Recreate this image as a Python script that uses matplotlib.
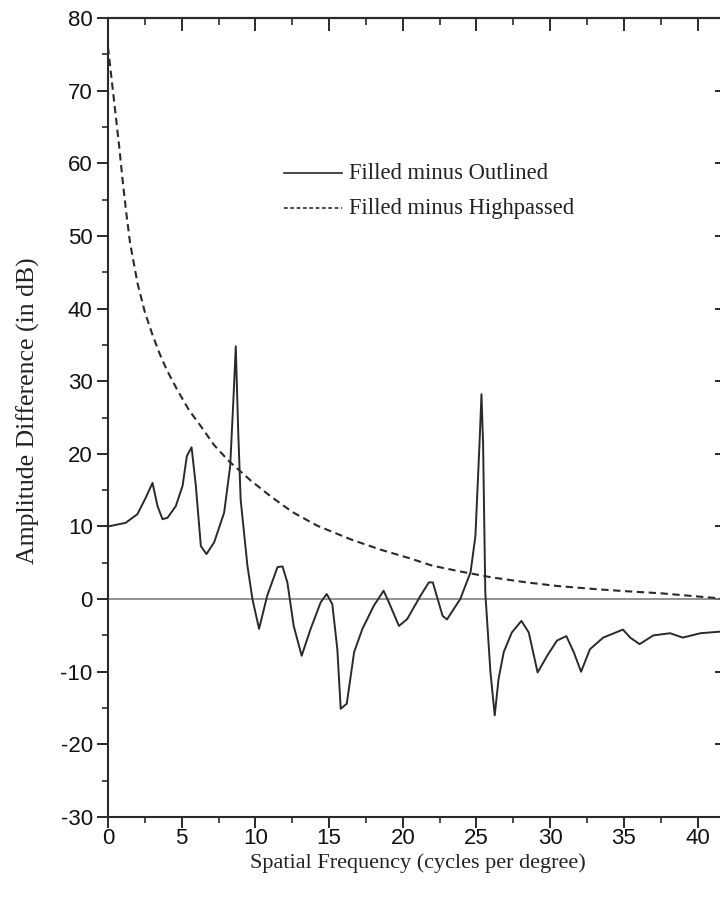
import matplotlib
matplotlib.use("Agg")
import matplotlib.pyplot as plt
from matplotlib.ticker import MultipleLocator

plt.rcParams["axes.unicode_minus"] = False

# ---- data ----
freq_outlined = [0, 1.2, 2.0, 2.57, 3.02, 3.36, 3.7, 4.04, 4.6, 5.06, 5.35, 5.67, 5.96, 6.3, 6.68,
                 7.2, 7.88, 8.29, 8.51, 8.67, 8.83, 9.0, 9.46, 9.8, 10.25, 10.8, 11.5, 11.84, 12.17,
                 12.6, 13.14, 13.75, 14.43, 14.84, 15.22, 15.56, 15.79, 16.2, 16.7, 17.26, 18.04,
                 18.7, 19.06, 19.74, 20.3, 21.2, 21.77, 22.04, 22.7, 23.0, 23.9, 24.6, 24.93, 25.22,
                 25.34, 25.45, 25.6, 25.95, 26.24, 26.5, 26.85, 27.4, 28.05, 28.55, 29.15, 29.8,
                 30.47, 31.1, 31.6, 32.1, 32.7, 33.6, 34.94, 35.43, 36.07, 37.0, 38.14, 39.0, 40.2, 42.0]
amp_outlined = [10.0, 10.5, 11.7, 14.0, 16.0, 12.8, 11.0, 11.2, 12.8, 15.6, 19.7, 20.9, 15.6, 7.3, 6.2,
                7.8, 11.9, 18.3, 27.5, 34.8, 23.4, 13.7, 4.6, 0.0, -4.1, 0.45, 4.4, 4.5, 2.3,
                -3.7, -7.8, -4.1, -0.45, 0.7, -0.7, -6.9, -15.1, -14.4, -7.3, -4.1, -0.9,
                1.15, -0.45, -3.7, -2.75, 0.45, 2.3, 2.3, -2.3, -2.8, 0.0, 3.7, 8.7, 22.0,
                28.2, 21.5, 0.9, -10.1, -16.0, -11.0, -7.3, -4.6, -3.0, -4.6, -10.1, -7.8,
                -5.7, -5.1, -7.3, -10.0, -6.9, -5.3, -4.2, -5.3, -6.2, -5.0, -4.7, -5.3, -4.7, -4.4]

freq_highpassed = [0, 0.25, 0.5, 0.75, 1.0, 1.25, 1.5, 2.0, 2.5, 3.0, 3.5, 4.0, 4.7, 5.5, 6.3,
                   7.2, 8.2, 9.7, 11.0, 12.5, 14.2, 16.5, 18.5, 20.5, 22.0, 23.9, 26.0, 28.4,
                   30.5, 32.9, 35.0, 37.5, 39.5, 41.5, 42.0]
amp_highpassed = [76, 71.5, 67, 62.5, 57.5, 53, 49, 43.5, 39.5, 36.5, 33.8, 31.5, 28.8, 26, 23.8,
                  21.2, 19, 16.3, 14.2, 12, 10.1, 8.2, 6.8, 5.6, 4.6, 3.8, 3.0, 2.3,
                  1.8, 1.4, 1.1, 0.8, 0.45, 0.1, 0.05]

legend_labels = ["Filled minus Outlined", "Filled minus Highpassed"]
x_label = "Spatial Frequency (cycles per degree)"
y_label = "Amplitude Difference (in dB)"

SANS = "Liberation Sans"
SERIF = "Liberation Serif"
INK = "#2a2a2a"

fig = plt.figure(figsize=(7.2, 8.98), dpi=100)
W, H = 720, 898
left, right, top, bottom = 108, 727, 18, 817
ax = fig.add_axes([left / W, (H - bottom) / H, (right - left) / W, (bottom - top) / H])

ax.set_xlim(0, 42)
ax.set_ylim(-30, 80)

# zero line
ax.axhline(0, color="#808080", lw=1.2, zorder=1)

ax.plot(freq_outlined, amp_outlined, color=INK, lw=1.4, zorder=3)
ax.plot(freq_highpassed, amp_highpassed, color=INK, lw=1.5, ls=(0, (3.5, 2.2)), zorder=2)

for s in ax.spines.values():
    s.set_linewidth(1.5)
    s.set_color(INK)

ax.xaxis.set_major_locator(MultipleLocator(5))
ax.xaxis.set_minor_locator(MultipleLocator(2.5))
ax.yaxis.set_major_locator(MultipleLocator(10))
ax.yaxis.set_minor_locator(MultipleLocator(5))
ax.tick_params(which="major", direction="out", length=8, width=1.4, color=INK,
               labelsize=16, pad=3, top=False, right=False)
ax.tick_params(axis="x", which="major", pad=0)
ax.tick_params(which="minor", direction="out", length=4.5, width=1.2, color=INK,
               top=False, right=False)
for lab in ax.get_xticklabels() + ax.get_yticklabels():
    lab.set_fontfamily(SANS)
    lab.set_color("#111111")

# top and right ticks point inward
secx = ax.secondary_xaxis("top")
secx.xaxis.set_major_locator(MultipleLocator(5))
secx.xaxis.set_minor_locator(MultipleLocator(2.5))
secx.tick_params(which="major", direction="in", length=9, width=1.4, color=INK, labeltop=False)
secx.tick_params(which="minor", direction="in", length=5, width=1.2, color=INK)
secy = ax.secondary_yaxis("right")
secy.yaxis.set_major_locator(MultipleLocator(10))
secy.yaxis.set_minor_locator(MultipleLocator(5))
secy.tick_params(which="major", direction="in", length=9, width=1.4, color=INK, labelright=False)
secy.tick_params(which="minor", direction="in", length=5, width=1.2, color=INK)
for sec in (secx, secy):
    for s in sec.spines.values():
        s.set_linewidth(1.5)
        s.set_color(INK)

ax.set_xlabel(x_label, fontfamily=SERIF, fontsize=16, color="#222222", labelpad=3)
ax.set_ylabel(y_label, fontfamily=SERIF, fontsize=18.5, color="#222222", labelpad=15)
ax.yaxis.label.set_y(0.508)

# legend drawn manually (axes-fraction coordinates)
def fx(px):
    return (px - left) / (right - left)

def fy(py):
    return (bottom - py) / (bottom - top)

ax.plot([fx(284), fx(342)], [fy(173), fy(173)], transform=ax.transAxes, color=INK, lw=1.2)
ax.plot([fx(284), fx(342)], [fy(208), fy(208)], transform=ax.transAxes, color=INK, lw=1.2,
        ls=(0, (2.2, 1.6)))
ax.text(fx(349), fy(173), legend_labels[0], transform=ax.transAxes, fontfamily=SERIF,
        fontsize=16.3, va="center", ha="left", color="#222222")
ax.text(fx(349), fy(208), legend_labels[1], transform=ax.transAxes, fontfamily=SERIF,
        fontsize=16.3, va="center", ha="left", color="#222222")

fig.savefig("out.png", dpi=100)
